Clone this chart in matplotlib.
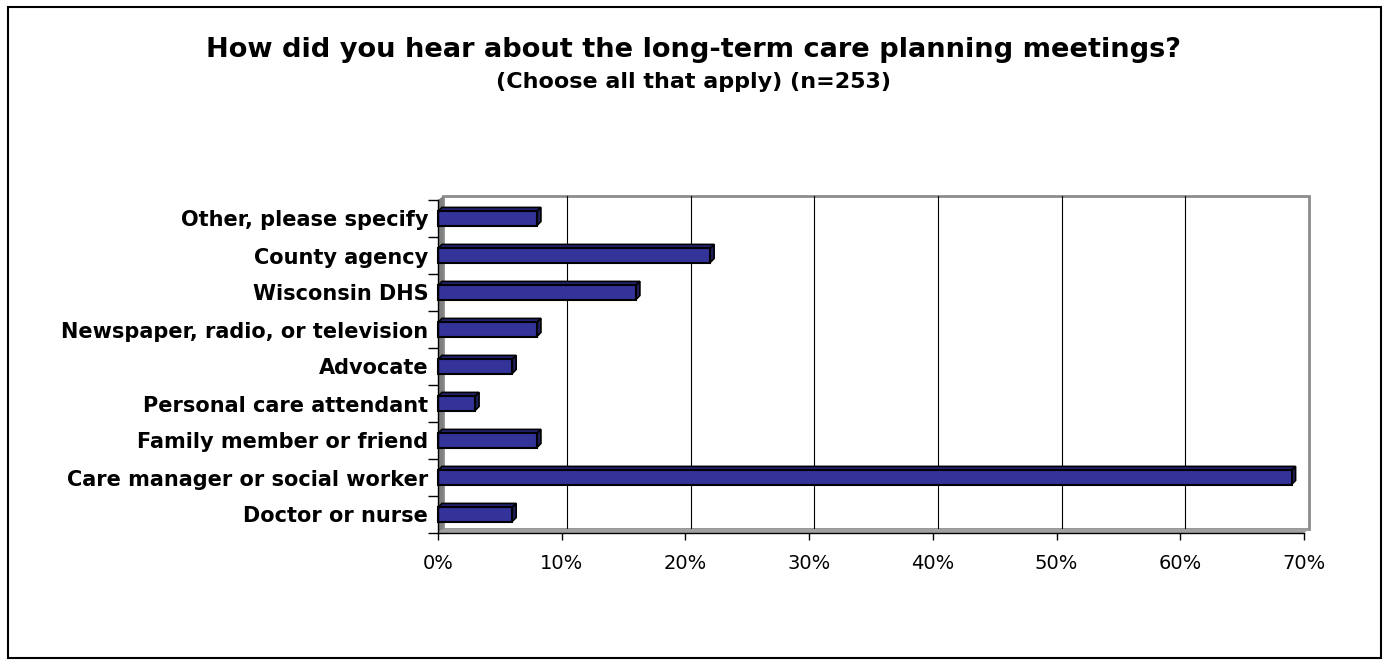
import numpy as np
import matplotlib.pyplot as plt
from matplotlib.patches import Rectangle, Polygon

# data (bottom to top)
categories = ["Doctor or nurse", "Care manager or social worker", "Family member or friend",
              "Personal care attendant", "Advocate", "Newspaper, radio, or television",
              "Wisconsin DHS", "County agency", "Other, please specify"]
values = [6, 69, 8, 3, 6, 8, 16, 22, 8]
xticks = [0, 10, 20, 30, 40, 50, 60, 70]
xticklabels = ["0%", "10%", "20%", "30%", "40%", "50%", "60%", "70%"]

title = "How did you hear about the long-term care planning meetings?"
subtitle = "(Choose all that apply) (n=253)"

W, H = 1387, 665
fig = plt.figure(figsize=(W / 100, H / 100), dpi=100)

# frame round the chart
fig.patches.append(Rectangle((8 / W, 1 - 658 / H), 1373 / W, 651 / H, transform=fig.transFigure,
                             fill=False, edgecolor='black', linewidth=1.5))

ax = fig.add_axes([438 / W, 1 - 533 / H, 866 / W, 333 / H])
n = len(categories)
ax.set_xlim(0, 70)
ax.set_ylim(-0.5, n - 0.5)
for s in ax.spines.values():
    s.set_visible(False)

# 3d offsets (data units)
dx, dy = 0.42, 0.11     # back wall
bdx, bdy = 0.32, 0.11   # bar depth
y0, y1 = -0.5, n - 0.5

# back wall + gridlines
ax.add_patch(Polygon([(dx, y0 + dy), (70 + dx, y0 + dy), (70 + dx, y1 + dy), (dx, y1 + dy)],
                     closed=True, facecolor='white', edgecolor='#8c8c8c', linewidth=2, clip_on=False, zorder=0))
for xt in xticks[1:-1]:
    ax.plot([xt + dx, xt + dx], [y0 + dy, y1 + dy], color='black', linewidth=0.8, clip_on=False, zorder=1)
# side wall and floor
ax.add_patch(Polygon([(0, y0), (dx, y0 + dy), (dx, y1 + dy), (0, y1)], closed=True,
                     facecolor='#808080', edgecolor='none', clip_on=False, zorder=1))
ax.add_patch(Polygon([(0, y0), (70, y0), (70 + dx, y0 + dy), (dx, y0 + dy)], closed=True,
                     facecolor='#a0a0a0', edgecolor='none', clip_on=False, zorder=1))

# bars
h = 0.38
for i, v in enumerate(values):
    lo, hi = i - h / 2, i + h / 2
    ax.add_patch(Polygon([(0, hi), (v, hi), (v + bdx, hi + bdy), (bdx, hi + bdy)], closed=True,
                         facecolor='#232370', edgecolor='black', linewidth=1.2, clip_on=False, zorder=3))
    ax.add_patch(Polygon([(v, lo), (v + bdx, lo + bdy), (v + bdx, hi + bdy), (v, hi)], closed=True,
                         facecolor='#20205a', edgecolor='black', linewidth=1.2, clip_on=False, zorder=3))
    ax.add_patch(Rectangle((0, lo), v, h, facecolor='#333399', edgecolor='black',
                           linewidth=1.5, clip_on=False, zorder=4))

# axes lines
ax.plot([0, 0], [y0, y1], color='black', linewidth=1, clip_on=False, zorder=5)
ax.plot([0, 70], [y0, y0], color='black', linewidth=1, clip_on=False, zorder=5)

ax.set_xticks(xticks)
ax.set_xticklabels(xticklabels)
ax.set_yticks(np.arange(n + 1) - 0.5)
ax.set_yticklabels([])
ax.set_yticks(np.arange(n), minor=True)
ax.set_yticklabels(categories, minor=True)
ax.tick_params(axis='y', which='major', length=7, width=1, direction='out')
ax.tick_params(axis='y', which='minor', length=0, pad=7)
ax.tick_params(axis='x', length=5, width=1, direction='out', pad=10)
for lab in ax.get_xticklabels():
    lab.set_fontsize(14)
for lab in ax.get_yticklabels(minor=True):
    lab.set_fontweight('bold')
    lab.set_fontsize(15)

fig.text(0.5, 1 - 50 / H, title, ha='center', va='center', fontsize=19.6, fontweight='bold')
fig.text(0.5, 1 - 82 / H, subtitle, ha='center', va='center', fontsize=16, fontweight='bold')

fig.savefig('out.png', dpi=100)
